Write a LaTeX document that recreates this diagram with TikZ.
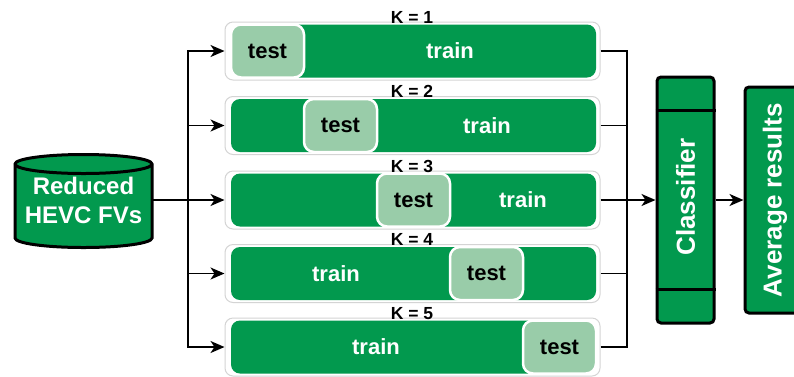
\documentclass[tikz,border=0pt]{standalone}
\usepackage{fontspec}
\setmainfont{Liberation Sans}
\usetikzlibrary{arrows.meta}
\definecolor{dgreen}{RGB}{2,153,78}
\definecolor{lgreen}{RGB}{153,204,169}
\definecolor{rowgray}{RGB}{212,212,212}
\begin{document}
\begin{tikzpicture}[x=1pt,y=-1pt,
  rowbox/.style={draw=rowgray,line width=1pt,fill=white,rounded corners=8pt,minimum width=375pt,minimum height=58pt,inner sep=0pt},
  barbox/.style={fill=dgreen,rounded corners=9pt,minimum width=365pt,minimum height=53pt,inner sep=0pt},
  testbox/.style={fill=lgreen,draw=white,line width=2.5pt,rounded corners=10pt,minimum width=73pt,minimum height=53pt,inner sep=0pt,font=\fontsize{22}{26}\selectfont\bfseries,text=black},
  trainlbl/.style={font=\fontsize{22}{26}\selectfont\bfseries,text=white,inner sep=0pt},
  klbl/.style={font=\fontsize{17.5}{20}\selectfont\bfseries,text=black,inner sep=0pt,anchor=base},
  bigbox/.style={draw=black,line width=3pt,fill=dgreen,rounded corners=4pt,inner sep=0pt},
  biglbl/.style={font=\fontsize{26}{30}\selectfont\bfseries,text=white,rotate=90,inner sep=0pt},
  conn/.style={line width=1.8pt,draw=black},
  arr/.style={conn,-{Stealth[length=14pt,width=12pt,inset=4pt]}}
]
\useasboundingbox (0,0) rectangle (794,376);
\fill[white] (0,0) rectangle (794,376);

% database cylinder
\fill[dgreen] (15,164) -- (15,238) arc[start angle=180,end angle=360,x radius=68.5pt,y radius=9.5pt] -- (152,164) arc[start angle=0,end angle=180,x radius=68.5pt,y radius=9.5pt] -- cycle;
\draw[line width=3pt] (15,164) -- (15,238) arc[start angle=180,end angle=360,x radius=68.5pt,y radius=9.5pt] -- (152,164) arc[start angle=0,end angle=180,x radius=68.5pt,y radius=9.5pt] -- cycle;
\draw[line width=3pt] (15,164) arc[start angle=180,end angle=360,x radius=68.5pt,y radius=9.5pt];
\node[minimum width=137pt,minimum height=92pt,inner sep=0pt,align=center,text=white,font=\fontsize{24}{29}\selectfont\bfseries] (db) at (83.5,200) {Reduced\\HEVC FVs};

% rows
\foreach \i/\c/\tx in {1/51/450,2/125.5/487,3/200/523,4/273.5/336,5/347/376}{
  \node[rowbox] (row\i) at (412.5,\c) {};
  \node[barbox] (bar\i) at (413.5,\c) {};
  \node[testbox] (test\i) at ({231+73*(\i-1)+36.5},\c) {test};
  \node[trainlbl] (train\i) at (\tx,\c) {train};
  \node[klbl] (k\i) at (412,\c-28) {K = \i};
}

% classifier and average
\node[bigbox,minimum width=57pt,minimum height=246pt] (clf) at (685.5,200) {};
\draw[line width=3pt] ([yshift=-35pt]clf.north west) -- ([yshift=-35pt]clf.north east);
\draw[line width=3pt] ([yshift=35pt]clf.south west) -- ([yshift=35pt]clf.south east);
\node[biglbl] (clft) at (685.5,197) {Classifier};
\node[bigbox,minimum width=60pt,minimum height=226pt] (avg) at (775,200) {};
\node[biglbl] (avgt) at (775,200) {Average results};

% connectors
\coordinate (split) at (188,200);
\coordinate (merge) at (627,200);
\draw[conn] (db.east) -- (split);
\foreach \i in {1,...,5}{
  \draw[arr] (split) |- (row\i.west);
  \draw[conn] (row\i.east) -| (merge);
}
\draw[arr] (merge) -- (clf.west);
\draw[arr] (clf.east) -- (avg.west);
\end{tikzpicture}
\end{document}
